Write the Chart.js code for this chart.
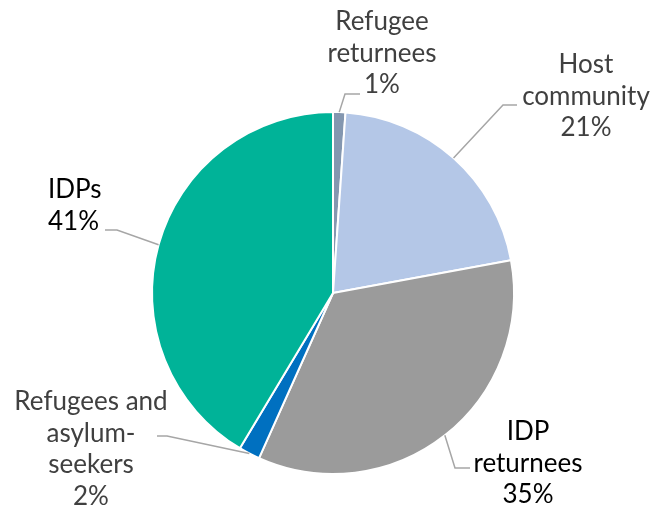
<!DOCTYPE html>
<html>
<head>
<meta charset="utf-8">
<script src="https://cdn.jsdelivr.net/npm/chart.js@4/dist/chart.umd.min.js"></script>
<style>
  html, body { margin: 0; padding: 0; background: #fff; }
  #wrap { width: 659px; height: 508px; position: relative; }
</style>
</head>
<body>
<div id="wrap"><canvas id="pie"></canvas></div>
<script>
// data (clockwise from 12 o'clock)
const categories = ['Refugee returnees', 'Host community', 'IDP returnees', 'Refugees and asylum-seekers', 'IDPs'];
const shares = [1.1, 21, 34.6, 1.9, 41.4];
const labelLines = [
    ['Refugee', 'returnees'],
    ['Host', 'community'],
    ['IDP', 'returnees'],
    ['Refugees and', 'asylum-', 'seekers'],
    ['IDPs']
];
const sliceColors = ['#8497B0', '#B4C7E7', '#9B9B9B', '#0070C0', '#00B398'];

// where each label sits and how its leader bends (layout only)
const labelLayout = [
    { x: 382, y: 30,  align: 'center', color: '#404040', elbow: [[345, 94], [360, 94]] },
    { x: 586, y: 73,  align: 'center', color: '#404040', elbow: [[503, 105], [517, 105]] },
    { x: 528, y: 440, align: 'center', color: '#000000', elbow: [[455, 468], [470, 468]] },
    { x: 91,  y: 410, align: 'center', color: '#404040', elbow: [[167, 436], [157, 436]] },
    { x: 48,  y: 198, align: 'left',   color: '#000000', elbow: [[117, 230], [105, 230]] }
];

const total = shares.reduce((a, b) => a + b, 0);

const calloutPlugin = {
    id: 'callouts',
    afterDraw(chart) {
        const ctx = chart.ctx;
        const arcs = chart.getDatasetMeta(0).data;
        ctx.save();
        arcs.forEach((arc, i) => {
            const lay = labelLayout[i];
            const mid = (arc.startAngle + arc.endAngle) / 2;
            const px = arc.x + Math.cos(mid) * arc.outerRadius;
            const py = arc.y + Math.sin(mid) * arc.outerRadius;

            ctx.strokeStyle = '#A6A6A6';
            ctx.lineWidth = 1.5;
            ctx.beginPath();
            ctx.moveTo(px, py);
            lay.elbow.forEach(p => ctx.lineTo(p[0], p[1]));
            ctx.stroke();

            const lines = labelLines[i].concat([Math.round(shares[i] / total * 100) + '%']);
            ctx.fillStyle = lay.color;
            ctx.font = '26px Lato, "Open Sans", sans-serif';
            ctx.textAlign = lay.align;
            ctx.textBaseline = 'alphabetic';
            lines.forEach((t, k) => ctx.fillText(t, lay.x, lay.y + k * 31.5));
        });
        ctx.restore();
    }
};

new Chart(document.getElementById('pie'), {
    type: 'pie',
    data: {
        labels: categories,
        datasets: [{
            data: shares,
            backgroundColor: sliceColors,
            borderColor: '#ffffff',
            borderWidth: 2
        }]
    },
    options: {
        responsive: true,
        maintainAspectRatio: false,
        animation: false,
        layout: { padding: { left: 151, right: 144, top: 111, bottom: 33 } },
        plugins: {
            legend: { display: false },
            tooltip: { enabled: false }
        }
    },
    plugins: [calloutPlugin]
});
</script>
</body>
</html>
